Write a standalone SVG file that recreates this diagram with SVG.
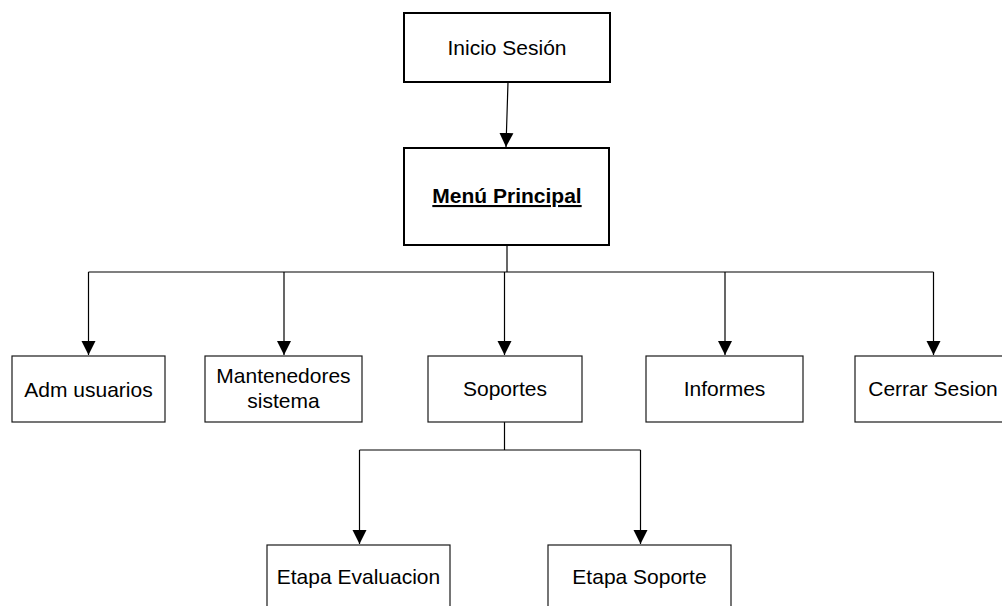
<svg xmlns="http://www.w3.org/2000/svg" width="1002" height="606" viewBox="0 0 1002 606">
  <style>
    .main { fill: #ffffff; stroke: #000000; stroke-width: 2; }
    .box { fill: #ffffff; stroke: #1a1a1a; stroke-width: 1.2; }
    .lbl { font-family: "Liberation Sans", Arial, sans-serif; font-size: 21px; fill: #000000; text-anchor: middle; }
    .bold { font-weight: bold; text-decoration: underline; }
    .wire { fill: none; stroke: #000000; stroke-width: 1.2; }
  </style>
  <defs>
    <marker id="arrow" markerUnits="userSpaceOnUse" markerWidth="16" markerHeight="16" viewBox="0 0 16 16" refX="14" refY="8" orient="auto">
      <path d="M0,1 L14,8 L0,15 Z" fill="#000000"/>
    </marker>
  </defs>

  <rect width="1002" height="606" fill="#ffffff"/>

  <!-- connectors -->
  <g id="connectors">
    <path class="wire" d="M508,82 L506,147" marker-end="url(#arrow)"/>
    <path class="wire" d="M507,245 L507,272"/>
    <path class="wire" d="M88.5,272 L933.5,272"/>
    <path class="wire" d="M88.5,272 L88.5,355" marker-end="url(#arrow)"/>
    <path class="wire" d="M284,272 L284,355" marker-end="url(#arrow)"/>
    <path class="wire" d="M504.5,272 L504.5,355" marker-end="url(#arrow)"/>
    <path class="wire" d="M725,272 L725,355" marker-end="url(#arrow)"/>
    <path class="wire" d="M933.5,272 L933.5,355" marker-end="url(#arrow)"/>
    <path class="wire" d="M504.5,422 L504.5,450"/>
    <path class="wire" d="M359.5,450 L640.5,450"/>
    <path class="wire" d="M359.5,450 L359.5,544" marker-end="url(#arrow)"/>
    <path class="wire" d="M640.5,450 L640.5,544" marker-end="url(#arrow)"/>
  </g>

  <g id="inicio-sesion">
    <rect class="main" x="404" y="13" width="206" height="69"/>
    <text class="lbl" x="507" y="55">Inicio Sesión</text>
  </g>

  <g id="menu-principal">
    <rect class="main" x="404" y="148" width="205" height="97"/>
    <text class="lbl bold" x="507" y="203">Menú Principal</text>
  </g>

  <g id="adm-usuarios">
    <rect class="box" x="12" y="356" width="153" height="66"/>
    <text class="lbl" x="88.5" y="397">Adm usuarios</text>
  </g>

  <g id="mantenedores-sistema">
    <rect class="box" x="205" y="356" width="157" height="66"/>
    <text class="lbl" x="283.5" y="383">Mantenedores</text>
    <text class="lbl" x="283.5" y="408">sistema</text>
  </g>

  <g id="soportes">
    <rect class="box" x="428" y="356" width="154" height="66"/>
    <text class="lbl" x="505" y="396">Soportes</text>
  </g>

  <g id="informes">
    <rect class="box" x="646" y="356" width="157" height="66"/>
    <text class="lbl" x="724.5" y="396">Informes</text>
  </g>

  <g id="cerrar-sesion">
    <rect class="box" x="855" y="356" width="157" height="66"/>
    <text class="lbl" x="933" y="396">Cerrar Sesion</text>
  </g>

  <g id="etapa-evaluacion">
    <rect class="box" x="267" y="545" width="183" height="80"/>
    <text class="lbl" x="358.5" y="584">Etapa Evaluacion</text>
  </g>

  <g id="etapa-soporte">
    <rect class="box" x="548" y="545" width="183" height="80"/>
    <text class="lbl" x="639.5" y="584">Etapa Soporte</text>
  </g>
</svg>
